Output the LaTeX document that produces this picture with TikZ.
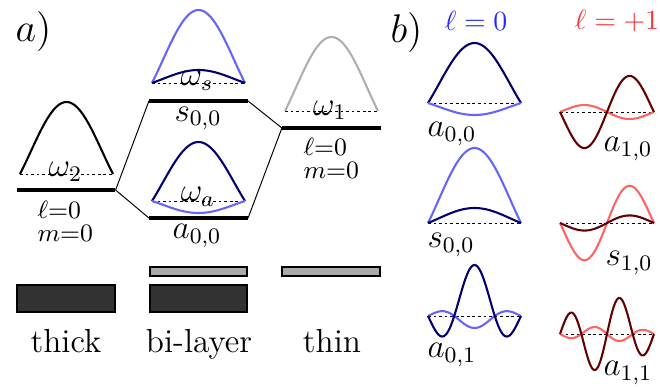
\documentclass[tikz,border=0pt]{standalone}
\usepackage{amsmath,amssymb}
\usepackage{tikz}
\usetikzlibrary{positioning}
\definecolor{navyc}{RGB}{0,0,110}
\definecolor{lightb}{RGB}{100,100,255}
\definecolor{darkr}{RGB}{100,0,0}
\definecolor{lightr}{RGB}{255,100,100}
\definecolor{headb}{RGB}{40,40,255}
\definecolor{headr}{RGB}{255,50,50}
\definecolor{grayc}{RGB}{175,175,175}
\definecolor{slabdark}{RGB}{50,50,50}
\definecolor{slablight}{RGB}{170,170,170}
\tikzset{
    level/.style={fill=black,inner sep=0pt,minimum width=35.3pt,minimum height=1.5pt},
    link/.style={line width=0.35pt},
    base/.style={dash pattern=on 1pt off 1pt,line width=0.35pt},
    mode/.style={line width=0.75pt},
    slab/.style={draw,line width=0.5pt},
    lab/.style={inner sep=0pt,font=\large},
    qn/.style={inner sep=0pt,font=\small,anchor=base west},
    declare function={
        Jzq(\q)=1-\q*(1-\q/4*(1-\q/9*(1-\q/16*(1-\q/25*(1-\q/36*(1-\q/49*(1-\q/64*(1-\q/81*(1-\q/100)))))))));
        Joq(\q)=1-\q/2*(1-\q/6*(1-\q/12*(1-\q/20*(1-\q/30*(1-\q/42*(1-\q/56*(1-\q/72*(1-\q/90*(1-\q/110*(1-\q/132*(1-\q/156)))))))))));
        Jz(\t)=Jzq(\t*\t/4);
        Jo(\t)=\t/2*Joq(\t*\t/4);
    }
}
\begin{document}
\begin{tikzpicture}[x=0.36pt,y=-0.36pt]
    \useasboundingbox (0,0) rectangle (660,386);

    % a) energy levels
    \node[lab,font=\Large,anchor=base west] (pa) at (15,42) {$a)$};
    \node[level] (lvlthick) at (66,190) {};
    \node[level] (lvls) at (198.5,101) {};
    \node[level] (lvla) at (198.5,218) {};
    \node[level] (lvlthin) at (331.5,128) {};
    \draw[link] (lvlthick.east) -- (lvls.west);
    \draw[link] (lvlthick.east) -- (lvla.west);
    \draw[link] (lvls.east) -- (lvlthin.west);
    \draw[link] (lvla.east) -- (lvlthin.west);

    % mode profiles above the levels
    \begin{scope}[shift={(66.5,174)}]
        \draw[base] (-46.5,0) -- (46.5,0);
        \draw[mode] plot[domain=-1:1,samples=41] ({46.5*\x},{-72*Jz(2.4048*\x)});
    \end{scope}
    \begin{scope}[shift={(198.5,83)}]
        \draw[base] (-46.5,0) -- (46.5,0);
        \draw[mode,lightb] plot[domain=-1:1,samples=41] ({46.5*\x},{-73*Jz(2.4048*\x)});
        \draw[mode,navyc] plot[domain=-1:1,samples=41] ({46.5*\x},{-13*Jz(2.4048*\x)});
    \end{scope}
    \begin{scope}[shift={(198.5,201)}]
        \draw[base] (-46.5,0) -- (46.5,0);
        \draw[mode,navyc] plot[domain=-1:1,samples=41] ({46.5*\x},{-59*Jz(2.4048*\x)});
        \draw[mode,lightb] plot[domain=-1:1,samples=41] ({46.5*\x},{12*Jz(2.4048*\x)});
    \end{scope}
    \begin{scope}[shift={(331.5,111)}]
        \draw[base] (-46.5,0) -- (46.5,0);
        \draw[mode,grayc] plot[domain=-1:1,samples=41] ({46.5*\x},{-74*Jz(2.4048*\x)});
    \end{scope}

    \node[lab,anchor=base] (w2) at (65.5,176) {$\omega_2$};
    \node[lab,anchor=base] (ws) at (197,86) {$\omega_s$};
    \node[lab,anchor=base] (wa) at (198,201) {$\omega_a$};
    \node[lab,anchor=base] (w1) at (330,115) {$\omega_1$};
    \node[lab,anchor=base] (ls) at (198,121) {$s_{0,0}$};
    \node[lab,anchor=base] (la) at (197,238) {$a_{0,0}$};
    \node[qn] (ellthick) at (37,218) {$\ell{=}0$};
    \node[qn] (mthick) at (37,241) {$m{=}0$};
    \node[qn] (ellthin) at (303,155) {$\ell{=}0$};
    \node[qn] (mthin) at (303,178) {$m{=}0$};

    % layers
    \draw[slab,fill=slabdark] (17,285) rectangle (115,312);
    \draw[slab,fill=slabdark] (150,285) rectangle (247,312);
    \draw[slab,fill=slablight] (150,267) rectangle (247,276);
    \draw[slab,fill=slablight] (282,267) rectangle (380,276);
    \node[lab,anchor=base] (tthick) at (66,352) {thick};
    \node[lab,anchor=base] (tbi) at (199,352) {bi-layer};
    \node[lab,anchor=base] (tthin) at (332,352) {thin};

    % b) mode shapes
    \node[lab,font=\Large,anchor=base west] (pb) at (390,43) {$b)$};
    \node[inner sep=0pt,anchor=base,text=headb] (hz) at (476,31) {$\ell = 0$};
    \node[inner sep=0pt,anchor=base,text=headr] (ho) at (617,30) {$\ell = +1$};

    \begin{scope}[shift={(474.5,103)}]
        \draw[base] (-46.5,0) -- (46.5,0);
        \draw[mode,navyc] plot[domain=-1:1,samples=41] ({46.5*\x},{-60*Jz(2.4048*\x)});
        \draw[mode,lightb] plot[domain=-1:1,samples=41] ({46.5*\x},{12*Jz(2.4048*\x)});
    \end{scope}
    \begin{scope}[shift={(474.5,223)}]
        \draw[base] (-46.5,0) -- (46.5,0);
        \draw[mode,lightb] plot[domain=-1:1,samples=41] ({46.5*\x},{-75*Jz(2.4048*\x)});
        \draw[mode,navyc] plot[domain=-1:1,samples=41] ({46.5*\x},{-15*Jz(2.4048*\x)});
    \end{scope}
    \begin{scope}[shift={(474.5,316)}]
        \draw[base] (-46.5,0) -- (46.5,0);
        \draw[mode,lightb] plot[domain=-1:1,samples=61] ({46.5*\x},{12*Jz(5.5201*\x)});
        \draw[mode,navyc] plot[domain=-1:1,samples=61] ({46.5*\x},{-51*Jz(5.5201*\x)});
    \end{scope}
    \begin{scope}[shift={(607,112)}]
        \draw[base] (-47,0) -- (47,0);
        \draw[mode,lightr] plot[domain=-1:1,samples=51] ({47*\x},{12*Jo(3.8317*\x)});
        \draw[mode,darkr] plot[domain=-1:1,samples=51] ({47*\x},{-62*Jo(3.8317*\x)});
    \end{scope}
    \begin{scope}[shift={(607,223)}]
        \draw[base] (-47,0) -- (47,0);
        \draw[mode,lightr] plot[domain=-1:1,samples=51] ({47*\x},{-64*Jo(3.8317*\x)});
        \draw[mode,darkr] plot[domain=-1:1,samples=51] ({47*\x},{-13*Jo(3.8317*\x)});
    \end{scope}
    \begin{scope}[shift={(607,334)}]
        \draw[base] (-47,0) -- (47,0);
        \draw[mode,lightr] plot[domain=-1:1,samples=71] ({47*\x},{12*Jo(7.0156*\x)});
        \draw[mode,darkr] plot[domain=-1:1,samples=71] ({47*\x},{-62*Jo(7.0156*\x)});
    \end{scope}

    \node[lab,anchor=base west] (ba00) at (427,137) {$a_{0,0}$};
    \node[lab,anchor=base west] (bs00) at (427,247) {$s_{0,0}$};
    \node[lab,anchor=base west] (ba01) at (427,357) {$a_{0,1}$};
    \node[lab,anchor=base west] (ba10) at (603,152) {$a_{1,0}$};
    \node[lab,anchor=base west] (bs10) at (605,265) {$s_{1,0}$};
    \node[lab,anchor=base west] (ba11) at (603,375) {$a_{1,1}$};
\end{tikzpicture}
\end{document}
